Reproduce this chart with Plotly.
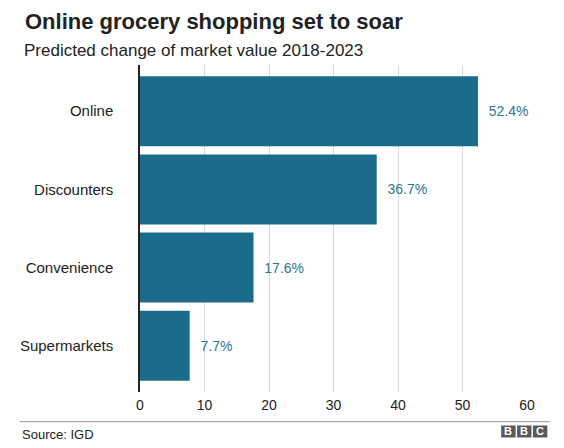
import plotly.graph_objects as go

categories = ["Online", "Discounters", "Convenience", "Supermarkets"]
values = [52.4, 36.7, 17.6, 7.7]
x_ticks = [0, 10, 20, 30, 40, 50, 60]

bar_col = "#1b6c8b"
label_col = "#2b7595"
font_fam = "Liberation Sans, Arial, sans-serif"

# the page body keeps its 8px default margin, so the figure is drawn 8px in
OFF = 8
W, H = 564 - OFF, 448 - OFF

fig = go.Figure(go.Bar(
    x=values,
    y=categories,
    orientation="h",
    marker=dict(color=bar_col, line=dict(width=0)),
    text=[f"  {v}%" for v in values],
    textposition="outside",
    textfont=dict(color=label_col, size=14, family=font_fam),
    cliponaxis=False,
    width=0.895,
))

fig.update_layout(
    width=W, height=H,
    margin=dict(l=137 - OFF, r=W - (527 - OFF), t=65 - OFF, b=H - (392 - OFF)),
    paper_bgcolor="white", plot_bgcolor="white",
    font=dict(family=font_fam, color="#222222"),
    showlegend=False,
)

fig.update_xaxes(
    range=[0, 60], tickvals=x_ticks,
    showgrid=True, gridcolor="#dadada", gridwidth=1,
    zeroline=False, showline=False,
    tickfont=dict(size=14, color="#222222"),
    ticklabelstandoff=3,
)
fig.update_yaxes(
    range=[3.59, -0.59],
    showgrid=False, zeroline=False,
    showline=True, linecolor="#222222", linewidth=1.5,
    tickfont=dict(size=15, color="#222222"),
    ticklabelstandoff=22,
)

pw = 527 - 137
ph = 392 - 65


def px_x(px):
    return (px - 137) / pw


def px_y(py):
    return (392 - py) / ph


ann = [
    dict(text="<b>Online grocery shopping set to soar</b>", x=px_x(19), y=px_y(21),
         font=dict(size=22, color="#222222")),
    dict(text="Predicted change of market value 2018-2023", x=px_x(18.5), y=px_y(50),
         font=dict(size=17, color="#222222")),
    dict(text="Source: IGD", x=px_x(16), y=px_y(434),
         font=dict(size=13, color="#222222")),
]
annotations = []
for a in ann:
    annotations.append(dict(a, xref="paper", yref="paper", xanchor="left",
                            yanchor="middle", showarrow=False))

shapes = [dict(type="line", xref="paper", yref="paper",
               x0=px_x(15.7), x1=px_x(550), y0=px_y(421.7), y1=px_y(421.7),
               line=dict(color="#a8a8a8", width=1.2))]

# BBC blocks
for i, letter in enumerate("BBC"):
    x0 = 501 + i * 16
    shapes.append(dict(type="rect", xref="paper", yref="paper",
                       x0=px_x(x0), x1=px_x(x0 + 14.5), y0=px_y(437.5), y1=px_y(425.5),
                       fillcolor="#5a5a5a", line=dict(width=0)))
    annotations.append(dict(text=f"<b>{letter}</b>", xref="paper", yref="paper",
                            x=px_x(x0 + 7.25), y=px_y(431.5), xanchor="center",
                            yanchor="middle", showarrow=False,
                            font=dict(size=11, color="white", family=font_fam)))

fig.update_layout(annotations=annotations, shapes=shapes)

fig.write_html("out.html")
